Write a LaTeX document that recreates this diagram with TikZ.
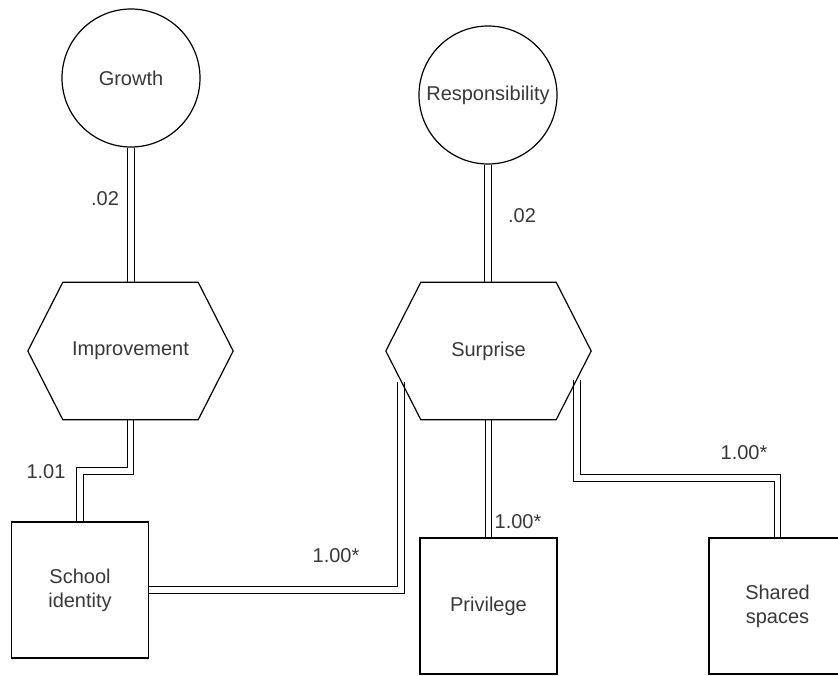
\documentclass[tikz,border=0pt]{standalone}
\usepackage{fontspec}
\setmainfont{Liberation Sans}
\usetikzlibrary{calc,backgrounds}
\begin{document}
\begin{tikzpicture}[x=1pt,y=-1pt,
  every node/.style={font=\fontsize{20}{24}\selectfont, text=black!78},
  circ/.style={circle, draw, line width=1.2pt, minimum size=138pt, inner sep=0pt},
  hexbox/.style={rectangle, minimum width=205pt, minimum height=137pt, inner sep=0pt},
  sqbox/.style={rectangle, draw, line width=1.2pt, minimum width=137pt, minimum height=136pt, inner sep=0pt, align=center},
  link/.style={draw=black, line width=1.1pt, double=white, double distance=5.6pt},
  lbl/.style={inner sep=0pt}]
  \useasboundingbox (0,0) rectangle (838,675);
  \clip (0,0) rectangle (838,675);

  % latent factors
  \node[circ] (grow) at (131,78) {Growth};
  \node[circ] (resp) at (488,95) {Responsibility};

  % hexagonal constructs
  \node[hexbox] (impr) at (130.5,351) {Improvement};
  \node[hexbox] (surp) at (488.5,351) {Surprise};
  \foreach \h in {impr,surp}
    \draw[line width=1.2pt] ($(\h.north west)+(35,0)$) -- ($(\h.north east)+(-35,0)$)
      -- (\h.east) -- ($(\h.south east)+(-35,0)$) -- ($(\h.south west)+(35,0)$)
      -- (\h.west) -- cycle;

  % observed items
  \node[sqbox] (school) at (80,590) {School\\identity};
  \node[sqbox] (priv) at (488.5,606) {Privilege};
  \node[sqbox] (shared) at (777.5,606) {Shared\\spaces};

  % attachment points on the lower slanted edges of Surprise
  \coordinate (sl) at ($(surp.center)+(-87.5,31)$);
  \coordinate (sr) at ($(surp.center)+(88.5,29)$);

  \begin{scope}[on background layer]
    \draw[link] (grow.south) -- (grow.south |- impr.north);
    \draw[link] (resp.south) -- (resp.south |- surp.north);
    \draw[link] (impr.south) -- ++(0,51) -| (school.north);
    \draw[link] (school.east) -| (sl);
    \draw[link] (surp.south) -- (priv.north);
    \draw[link] (sr) -- ++(0,98) -| (shared.north);
  \end{scope}

  % loadings
  \node[lbl] (l1) at (105,199) {.02};
  \node[lbl] (l2) at (522,216) {.02};
  \node[lbl] (l3) at (46,472) {1.01};
  \node[lbl] (l4) at (336,556) {1.00*};
  \node[lbl] (l5) at (518,522) {1.00*};
  \node[lbl] (l6) at (744,453) {1.00*};
\end{tikzpicture}
\end{document}
